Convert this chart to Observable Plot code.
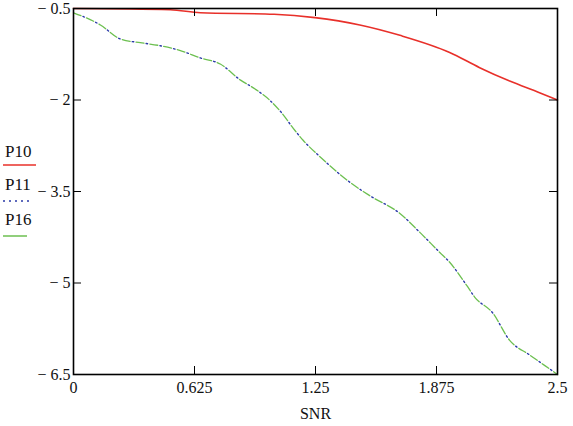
<!DOCTYPE html>
<html>
<head>
<meta charset="utf-8">
<script src="https://cdn.jsdelivr.net/npm/d3@7"></script>
<script src="https://cdn.jsdelivr.net/npm/@observablehq/plot@0.6"></script>
<style>
  html, body { margin: 0; padding: 0; background: #fff; }
  #wrap { position: relative; width: 573px; height: 426px; }
  #legend { position: absolute; left: 0; top: 0; }
  svg text { font-family: 'Liberation Serif', 'Times New Roman', serif !important; }
</style>
</head>
<body>
<div id="wrap"></div>
<script>
// ---- data ----
const snrP10 = [0, 0.5, 0.655, 1.036, 1.247, 1.479, 1.686, 1.943, 2.098, 2.253, 2.407, 2.5];
const p10    = [-0.5, -0.52, -0.57, -0.595, -0.65, -0.77, -0.94, -1.22, -1.47, -1.69, -1.88, -2.0];

const snrP16 = [0, 0.139, 0.242, 0.345, 0.448, 0.552, 0.655, 0.758, 0.861, 0.938, 1.016, 1.067, 1.144, 1.186, 1.273, 1.428, 1.531, 1.686, 1.789, 1.892, 1.943, 2.031, 2.072, 2.165, 2.253, 2.356, 2.433, 2.5];
const p16    = [-0.57, -0.77, -1.0, -1.06, -1.11, -1.19, -1.31, -1.41, -1.67, -1.82, -2.01, -2.18, -2.5, -2.66, -2.93, -3.35, -3.57, -3.86, -4.17, -4.5, -4.66, -5.04, -5.23, -5.49, -5.94, -6.18, -6.35, -6.5];
const p11    = [-0.57, -0.77, -1.0, -1.06, -1.11, -1.19, -1.31, -1.41, -1.67, -1.82, -2.01, -2.18, -2.5, -2.66, -2.93, -3.35, -3.57, -3.86, -4.17, -4.5, -4.66, -5.04, -5.23, -5.49, -5.94, -6.18, -6.35, -6.5];

const xTicks = [0, 0.625, 1.25, 1.875, 2.5];
const xTickLabels = ["0", "0.625", "1.25", "1.875", "2.5"];
const yTicks = [-0.5, -2, -3.5, -5, -6.5];
const yTickLabels = ["\u2212 0.5", "\u2212 2", "\u2212 3.5", "\u2212 5", "\u2212 6.5"];
const seriesNames = ["P10", "P11", "P16"];

// ---- build ----
const W = 573, H = 426;
const mL = 73, mR = 16, mT = 8, mB = 52;
const innerH = H - mT - mB, innerW = W - mL - mR;
const tickLen = 8;

const d10 = snrP10.map((x, i) => ({x, y: p10[i]}));
const d16 = snrP16.map((x, i) => ({x, y: p16[i]}));
const d11 = snrP16.map((x, i) => ({x, y: p11[i]}));

const font = "'Liberation Serif', 'Times New Roman', serif";

const chart = Plot.plot({
  width: W, height: H,
  marginLeft: mL, marginRight: mR, marginTop: mT, marginBottom: mB,
  style: {fontFamily: font, fontSize: "16px", color: "#111", background: "#fff"},
  x: {domain: [0, 2.5]},
  y: {domain: [-6.5, -0.5]},
  marks: [
    Plot.line(d16, {x: "x", y: "y", stroke: "#6cbf50", strokeWidth: 1.3, strokeDasharray: "8,6", curve: "monotone-x"}),
    Plot.line(d11, {x: "x", y: "y", stroke: "#2a3aa8", strokeWidth: 1.4, strokeDasharray: "1.5,12.5", strokeDashoffset: -10.2, curve: "monotone-x"}),
    Plot.line(d10, {x: "x", y: "y", stroke: "#e8302a", strokeWidth: 1.6, curve: "monotone-x"}),
    Plot.frame({stroke: "#000", strokeWidth: 1.6}),
    // inward ticks on all sides
    Plot.tickX(xTicks.slice(1, -1), {x: d => d, stroke: "#000", insetTop: innerH - tickLen}),
    Plot.tickX(xTicks.slice(1, -1), {x: d => d, stroke: "#000", insetBottom: innerH - tickLen}),
    Plot.tickY(yTicks.slice(1, -1), {y: d => d, stroke: "#000", insetRight: innerW - tickLen}),
    Plot.tickY(yTicks.slice(1, -1), {y: d => d, stroke: "#000", insetLeft: innerW - tickLen}),
    Plot.axisX({ticks: xTicks, tickFormat: (d, i) => xTickLabels[i], tickSize: 0, tickPadding: 7,
      label: "SNR", labelAnchor: "center", labelArrow: "none", labelOffset: 44, fontSize: 16}),
    Plot.axisY({ticks: yTicks, tickFormat: (d, i) => yTickLabels[i], tickSize: 0, tickPadding: 3, label: null, fontSize: 16})
  ]
});

const wrap = document.getElementById("wrap");
wrap.appendChild(chart);

// legend on the left (outside the plot area)
const ns = "http://www.w3.org/2000/svg";
const leg = document.createElementNS(ns, "svg");
leg.setAttribute("id", "legend");
leg.setAttribute("width", 60);
leg.setAttribute("height", 426);
const legStyles = [
  {stroke: "#e8302a", dash: null, textY: 157, lineY: 165, x2: 36},
  {stroke: "#2a3aa8", dash: "2,4", textY: 190, lineY: 201, x2: 31},
  {stroke: "#6cbf50", dash: null, textY: 225, lineY: 236, x2: 27}
];
seriesNames.forEach((name, i) => {
  const s = legStyles[i];
  const t = document.createElementNS(ns, "text");
  t.setAttribute("x", 5);
  t.setAttribute("y", s.textY);
  t.setAttribute("font-size", 17);
  t.setAttribute("fill", "#111");
  t.textContent = name;
  leg.appendChild(t);
  const l = document.createElementNS(ns, "line");
  l.setAttribute("x1", 3);
  l.setAttribute("x2", s.x2);
  l.setAttribute("y1", s.lineY);
  l.setAttribute("y2", s.lineY);
  l.setAttribute("stroke", s.stroke);
  l.setAttribute("stroke-width", 1.5);
  if (s.dash) l.setAttribute("stroke-dasharray", s.dash);
  leg.appendChild(l);
});
wrap.appendChild(leg);
</script>
</body>
</html>
